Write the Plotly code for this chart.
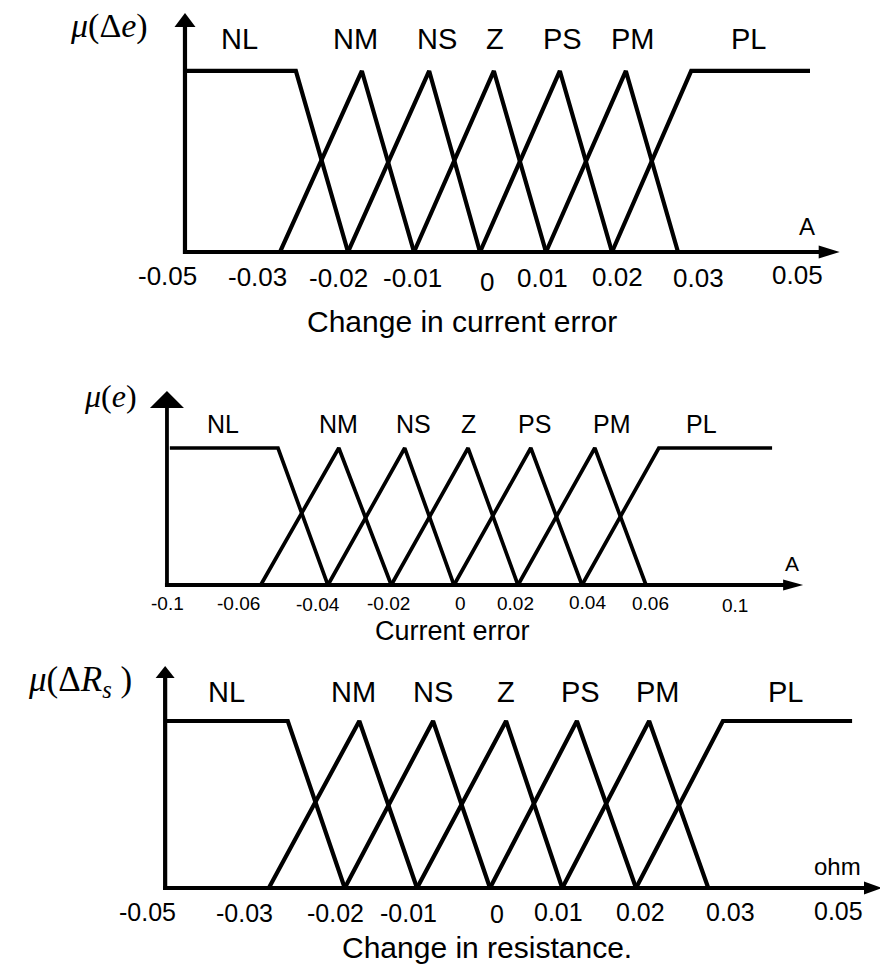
import plotly.graph_objects as go

W, H = 880, 967

# ---------------- data ----------------
mf_names = ["NL", "NM", "NS", "Z", "PS", "PM", "PL"]
mu_nl = [1, 1, 0]
mu_tri = [0, 1, 0]
mu_pl = [0, 1, 1]
mu_levels = [mu_nl, mu_tri, mu_tri, mu_tri, mu_tri, mu_tri, mu_pl]

# Panel 1: change in current error (A)
de_NL = [-0.0447, -0.0279, -0.0200]
de_NM = [-0.0303, -0.0179, -0.0100]
de_NS = [-0.0200, -0.0077, 0.0000]
de_Z = [-0.0100, 0.0021, 0.0100]
de_PS = [0.0000, 0.0121, 0.0200]
de_PM = [0.0100, 0.0221, 0.0300]
de_PL = [0.0200, 0.0320, 0.0500]
de_ticks = ["-0.05", "-0.03", "-0.02", "-0.01", "0", "0.01", "0.02", "0.03", "0.05"]
de_universe = [-0.0447, 0.0545]

# Panel 2: current error (A)
e_NL = [-0.0888, -0.0550, -0.0394]
e_NM = [-0.0604, -0.0360, -0.0196]
e_NS = [-0.0394, -0.0154, 0.0000]
e_Z = [-0.0196, 0.0044, 0.0200]
e_PS = [0.0000, 0.0240, 0.0400]
e_PM = [0.0200, 0.0440, 0.0600]
e_PL = [0.0400, 0.0640, 0.0994]
e_ticks = ["-0.1", "-0.06", "-0.04", "-0.02", "0", "0.02", "0.04", "0.06", "0.1"]
e_universe = [-0.0897, 0.1091]

# Panel 3: change in resistance (ohm)
dr_NL = [-0.0445, -0.0277, -0.0199]
dr_NM = [-0.0303, -0.0179, -0.0100]
dr_NS = [-0.0199, -0.0078, 0.0000]
dr_Z = [-0.0100, 0.0022, 0.0099]
dr_PS = [0.0000, 0.0119, 0.0200]
dr_PM = [0.0099, 0.0218, 0.0299]
dr_PL = [0.0200, 0.0319, 0.0496]
dr_ticks = ["-0.05", "-0.03", "-0.02", "-0.01", "0", "0.01", "0.02", "0.03", "0.05"]
dr_universe = [-0.0445, 0.0537]

# ---------------- layout config ----------------
SANS = "Liberation Sans, Arial, Helvetica, sans-serif"
SERIF = "Liberation Serif, Times New Roman, serif"

panels = [
    dict(mfs=[de_NL, de_NM, de_NS, de_Z, de_PS, de_PM, de_PL], ticks=de_ticks, uni=de_universe,
         xr=[-0.072727, 0.060606], yr=[-3.950, 1.392], ytip=1.32,
         lw=4.2, axw=4.2,
         yarrow="M0,0 L-10.5,-14 L10.5,-14 Z", yarrow_h=14,
         xarrow="M0,0 L-21,6.5 L-21,-6.5 Z", xarrow_l=21,
         label_px=[240, 355, 437, 495, 562, 633, 748], label_py=39, label_size=29,
         tick_px=[167, 257, 338, 412, 487, 542, 617, 698, 797],
         tick_py=[276, 277, 278, 278, 282, 278, 277, 278, 275], tick_size=26,
         title="Change in current error", title_pos=(462, 321), title_size=30,
         unit="A", unit_pos=(807, 227), unit_size=24,
         mu="<i>μ</i>(Δ<i>e</i>)", mu_pos=(109, 26), mu_size=34),
    dict(mfs=[e_NL, e_NM, e_NS, e_Z, e_PS, e_PM, e_PL], ticks=e_ticks, uni=e_universe,
         xr=[-0.141875, 0.133125], yr=[-2.788, 4.270], ytip=1.416,
         lw=3.7, axw=3.8,
         yarrow="M0,0 L-17,-17 L17,-17 Z", yarrow_h=17,
         xarrow="M0,0 L-20,5.5 L-20,-5.5 Z", xarrow_l=20,
         label_px=[223, 338, 413, 468, 534, 612, 701], label_py=424, label_size=25,
         tick_px=[167, 238, 318, 388, 461, 515, 587, 650, 735],
         tick_py=[603, 603, 604, 603, 603, 603, 602, 603, 605], tick_size=19,
         title="Current error", title_pos=(452, 631), title_size=27,
         unit="A", unit_pos=(792, 563), unit_size=21,
         mu="<i>μ</i>(<i>e</i>)", mu_pos=(110, 396), mu_size=32),
    dict(mfs=[dr_NL, dr_NM, dr_NS, dr_Z, dr_PS, dr_PM, dr_PL], ticks=dr_ticks, uni=dr_universe,
         xr=[-0.067123, 0.053425], yr=[-0.473, 5.317], ytip=1.329,
         lw=4.2, axw=4.2,
         yarrow="M0,0 L-9.5,-12 L9.5,-12 Z", yarrow_h=12,
         xarrow="M0,0 L-18,6.5 L-18,-6.5 Z", xarrow_l=18,
         label_px=[227, 353, 433, 506, 580, 658, 785], label_py=692, label_size=29,
         tick_px=[147, 245, 335, 408, 497, 558, 640, 730, 838],
         tick_py=[912, 913, 913, 913, 914, 912, 912, 912, 911], tick_size=25,
         title="Change in resistance.", title_pos=(487, 947), title_size=30,
         unit="ohm", unit_pos=(812, 866), unit_size=24,
         mu="<i>μ</i>(Δ<i>R</i><sub><i>s</i></sub> )", mu_pos=(80, 681), mu_size=35),
]

fig = go.Figure()
shapes = []
annotations = []


def paper(px, py):
    return px / W, 1 - py / H


for k, p in enumerate(panels):
    sfx = "" if k == 0 else str(k + 1)
    xa, ya = "x" + sfx, "y" + sfx
    dxp = (p["xr"][1] - p["xr"][0]) / W  # data per pixel
    dyp = (p["yr"][1] - p["yr"][0]) / H

    # membership functions
    for name, xs, ys in zip(mf_names, p["mfs"], mu_levels):
        fig.add_trace(go.Scatter(x=xs, y=ys, mode="lines", name=name,
                                 line=dict(color="black", width=p["lw"]),
                                 xaxis=xa, yaxis=ya, hoverinfo="skip", showlegend=False))

    x_start, x_tip = p["uni"]
    # horizontal axis
    shapes.append(dict(type="line", xref=xa, yref=ya, x0=x_start - 2 * dxp, y0=0,
                       x1=x_tip - p["xarrow_l"] * 0.6 * dxp, y1=0,
                       line=dict(color="black", width=p["axw"])))
    shapes.append(dict(type="path", xref=xa, yref=ya, xsizemode="pixel", ysizemode="pixel",
                       xanchor=x_tip, yanchor=0, path=p["xarrow"],
                       fillcolor="black", line=dict(width=0)))
    # vertical axis
    shapes.append(dict(type="line", xref=xa, yref=ya, x0=x_start, y0=-p["axw"] / 2 * dyp,
                       x1=x_start, y1=p["ytip"] - p["yarrow_h"] * 0.6 * dyp,
                       line=dict(color="black", width=p["axw"])))
    shapes.append(dict(type="path", xref=xa, yref=ya, xsizemode="pixel", ysizemode="pixel",
                       xanchor=x_start, yanchor=p["ytip"], path=p["yarrow"],
                       fillcolor="black", line=dict(width=0)))

    # MF labels
    for name, px in zip(mf_names, p["label_px"]):
        x, y = paper(px, p["label_py"])
        annotations.append(dict(text=name, x=x, y=y, xref="paper", yref="paper",
                                xanchor="center", yanchor="middle", showarrow=False,
                                font=dict(family=SANS, size=p["label_size"], color="black")))
    # tick labels
    for t, px, py in zip(p["ticks"], p["tick_px"], p["tick_py"]):
        x, y = paper(px, py)
        annotations.append(dict(text=t, x=x, y=y, xref="paper", yref="paper",
                                xanchor="center", yanchor="middle", showarrow=False,
                                font=dict(family=SANS, size=p["tick_size"], color="black")))
    # axis title
    x, y = paper(*p["title_pos"])
    annotations.append(dict(text=p["title"], x=x, y=y, xref="paper", yref="paper",
                            xanchor="center", yanchor="middle", showarrow=False,
                            font=dict(family=SANS, size=p["title_size"], color="black")))
    # unit
    x, y = paper(*p["unit_pos"])
    annotations.append(dict(text=p["unit"], x=x, y=y, xref="paper", yref="paper",
                            xanchor="left" if p["unit"] == "ohm" else "center",
                            yanchor="middle", showarrow=False,
                            font=dict(family=SANS, size=p["unit_size"], color="black")))
    # membership symbol
    x, y = paper(*p["mu_pos"])
    annotations.append(dict(text=p["mu"], x=x, y=y, xref="paper", yref="paper",
                            xanchor="center", yanchor="middle", showarrow=False,
                            font=dict(family=SERIF, size=p["mu_size"], color="black")))

    axis_common = dict(visible=False, showgrid=False, zeroline=False, fixedrange=True, domain=[0, 1])
    fig.layout["xaxis" + sfx] = dict(axis_common, range=p["xr"], anchor=ya)
    fig.layout["yaxis" + sfx] = dict(axis_common, range=p["yr"], anchor=xa)

fig.update_layout(width=W, height=H, margin=dict(l=0, r=0, t=0, b=0),
                  paper_bgcolor="white", plot_bgcolor="rgba(0,0,0,0)",
                  showlegend=False, shapes=shapes, annotations=annotations)

fig.write_html("out.html", config={"displayModeBar": False})
